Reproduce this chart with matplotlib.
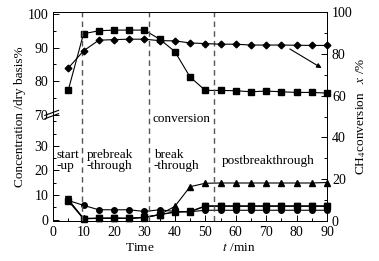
import numpy as np
import matplotlib
matplotlib.use('Agg')
import matplotlib.pyplot as plt
from matplotlib.ticker import FixedLocator
from matplotlib.transforms import blended_transform_factory

plt.rcParams['font.family'] = ['Liberation Serif', 'DejaVu Serif']
plt.rcParams['mathtext.fontset'] = 'stix'

t = [5, 10, 15, 20, 25, 30, 35, 40, 45, 50, 55, 60, 65, 70, 75, 80, 85, 90]

# upper part, left axis
conc_sq = [77.3, 94.1, 95.0, 95.2, 95.2, 95.2, 92.5, 88.8, 81.2, 77.2, 77.2, 77.1, 76.8, 77.0, 76.8, 76.6, 76.6, 76.4]
# CH4 conversion, right axis
conv = [73.2, 81.4, 86.5, 86.8, 87.0, 87.0, 86.3, 86.2, 85.2, 84.9, 84.6, 84.6, 84.2, 84.2, 84.2, 84.1, 84.0, 84.0]
# lower part, left axis
low_ci = [7.8, 5.8, 4.0, 4.0, 4.0, 3.3, 4.0, 3.3, 3.2, 3.8, 3.8, 3.8, 3.8, 3.8, 3.8, 3.8, 3.8, 3.8]
low_sq = [7.6, 0.3, 0.5, 0.6, 0.5, 1.0, 2.0, 3.2, 3.2, 5.4, 5.4, 5.4, 5.4, 5.4, 5.4, 5.4, 5.4, 5.4]
low_dt = [8.2, 0.4, 0.6, 0.6, 0.5, 0.9, 2.0, 3.0, 3.3, 5.6, 5.6, 5.6, 5.6, 5.6, 5.6, 5.6, 5.6, 5.6]
low_tr = [8.0, 0.5, 0.5, 0.5, 0.5, 0.8, 2.0, 5.4, 13.4, 14.8, 14.9, 14.9, 14.9, 14.9, 14.9, 14.9, 14.9, 15.1]

stages = [9.5, 31.5, 53]

# broken left scale: 0..42.5 linear, squeezed gap, then 70..100 steeper
LO, HI, EPS, K = 42.5, 70.0, 0.01, 3.37 / 2.47
U_HI = LO + (HI - LO) * EPS

def fwd(v):
    v = np.asarray(v, dtype=float)
    return np.where(v <= LO, v, np.where(v <= HI, LO + (v - LO) * EPS, U_HI + (v - HI) * K))

def inv(u):
    u = np.asarray(u, dtype=float)
    return np.where(u <= LO, u, np.where(u <= U_HI, LO + (u - LO) / EPS, HI + (u - U_HI) / K))

fig = plt.figure(figsize=(3.79, 2.61), dpi=100)
ax = fig.add_axes([0.140, 0.153, 0.723, 0.801])
ax.set_yscale('function', functions=(fwd, inv))
ax.set_xlim(0, 90)
ax.set_ylim(-0.6, 100.6)

kw = dict(color='black', lw=0.8, clip_on=False)
ax.plot(t, conc_sq, marker='s', ms=4.2, **kw)
ax.plot(t, low_tr, marker='^', ms=4.2, **kw)
ax.plot(t, low_dt, marker='v', ms=4.2, **kw)
ax.plot(t, low_sq, marker='s', ms=3.8, **kw)
ax.plot(t, low_ci, marker='o', ms=4, **kw)

for s in stages:
    ax.axvline(s, color='#555555', lw=1, ls=(0, (4, 3)))

ax.yaxis.set_major_locator(FixedLocator([0, 10, 20, 30, 70, 80, 90, 100]))
ax.yaxis.set_minor_locator(FixedLocator([5, 15, 25, 35, 40, 75, 85, 95]))
ax.set_yticklabels(['0', '10', '20', '30', '70', '80', '90', '100'])
ax.set_xticks(range(0, 91, 10))
ax.tick_params(direction='in', labelsize=10, length=4, width=0.7)
ax.tick_params(which='minor', direction='in', length=2.5, width=0.7)
ax.xaxis.set_minor_locator(FixedLocator(list(range(5, 90, 10))))
ax.tick_params(axis='x', which='both', top=False)
ax.set_ylabel('Concentration /dry basis%', fontsize=9.5, labelpad=1)
ax.set_xlabel('Time                     $t$ /min', fontsize=9.5, labelpad=2)

# break mark on left spine at 70
y70 = ax.transLimits.transform((0, fwd(70)))[1]
for dy in (-0.008, 0.008):
    ax.plot([-0.03, 0.02], [y70 + dy - 0.012, y70 + dy + 0.012], transform=ax.transAxes,
            color='black', lw=0.8, clip_on=False)

ax2 = ax.twinx()
ax2.set_ylim(0, 100)
ax2.plot(t, conv, marker='D', ms=3.4, **kw)
ax2.set_yticks(range(0, 101, 20))
ax2.yaxis.set_minor_locator(FixedLocator(list(range(10, 100, 20))))
ax2.tick_params(direction='in', labelsize=10, length=4, width=0.7)
ax2.tick_params(which='minor', direction='in', length=2.5, width=0.7)
ax2.set_ylabel('CH$_4$conversion   $x$ /%', fontsize=9.5, labelpad=1)
ax2.annotate('', xy=(89, 72.5), xytext=(77, 83),
             arrowprops=dict(arrowstyle='-|>', color='black', lw=0.8, mutation_scale=7))

for a in (ax, ax2):
    for sp in a.spines.values():
        sp.set_linewidth(0.7)

tr = blended_transform_factory(ax.transData, ax.transAxes)
tk = dict(fontsize=9.5, ha='left', va='center', linespacing=0.95, transform=tr)
ax.text(1.0, 0.29, 'start\n-up', **tk)
ax.text(11.0, 0.29, 'prebreak\n-through', **tk)
ax.text(33.0, 0.29, 'break\n-through', **tk)
ax.text(55.5, 0.285, 'postbreakthrough', **tk)
ax.text(32.5, 0.49, 'conversion', **tk)

fig.savefig('out.png', dpi=100)
